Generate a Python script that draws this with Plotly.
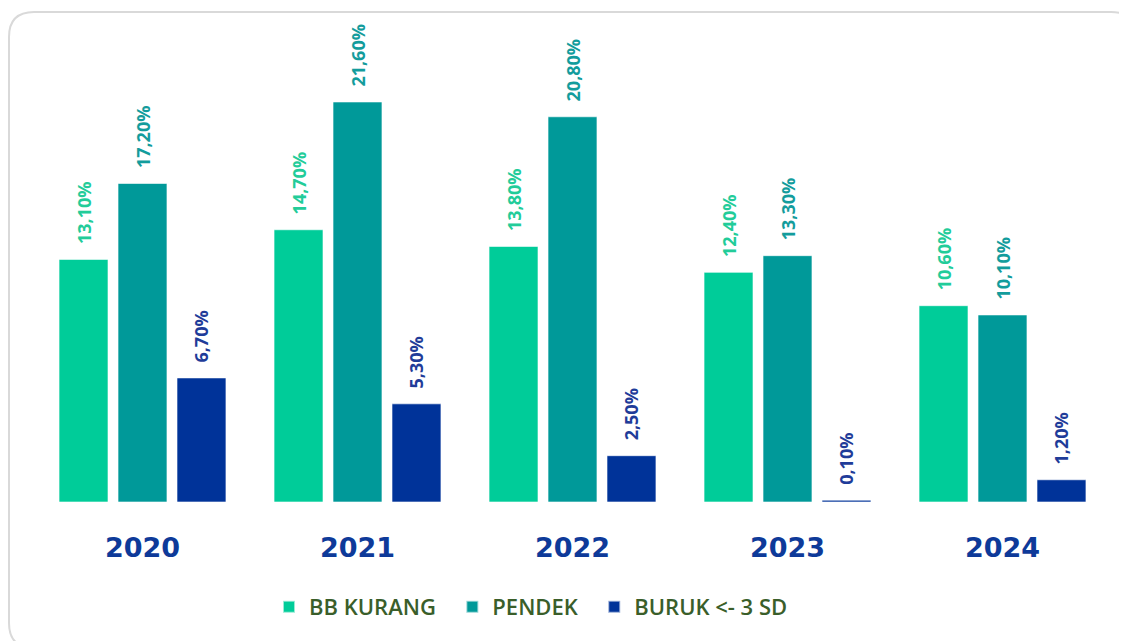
import plotly.graph_objects as go

years = ["2020", "2021", "2022", "2023", "2024"]
bb_kurang = [13.1, 14.7, 13.8, 12.4, 10.6]
pendek = [17.2, 21.6, 20.8, 13.3, 10.1]
buruk = [6.7, 5.3, 2.5, 0.1, 1.2]
series_names = ["BB KURANG", "PENDEK", "BURUK <- 3 SD"]
legend_pad = ["\u00a0" * 2, "\u00a0" * 2, ""]
series_colors = ["#00CC99", "#009999", "#003399"]
label_colors = ["#22CC99", "#139C9C", "#1F3C99"]

OFF = 8  # page body margin
W, H = 1127 - OFF, 641 - OFF
# plot area in window pixels: x 35..1110, y 20..502
ML, MR, MT, MB = 35 - OFF, 1127 - 1110, 20 - OFF, 641 - 502
PW, PH = W - ML - MR, H - MT - MB


def px_to_paper(x, y):
    # x, y in window pixels
    return (x - OFF - ML) / PW, (H - MB - (y - OFF)) / PH


def fmt(v):
    return "\u00a0\u00a0\u2009" + f"{v:.2f}".replace(".", ",") + "%"


fig = go.Figure()
for name, pad, vals, col, lcol in zip(series_names, legend_pad, [bb_kurang, pendek, buruk],
                                      series_colors, label_colors):
    fig.add_trace(go.Bar(
        name=name + pad, x=years, y=vals,
        marker=dict(color=col, line=dict(color="rgba(255,255,255,0.6)", width=1)),
        text=[fmt(v) for v in vals],
        textposition="outside", textangle=-90,
        outsidetextfont=dict(family="Open Sans", size=18, color=lcol, weight="bold"),
        cliponaxis=False, constraintext="none",
        hoverinfo="skip",
    ))

# rounded frame (right and bottom sides run off the window as in the reference)
x0, y0 = px_to_paper(9, 12)
x1, y1 = px_to_paper(1136, 648)
rx = 25 / PW
ry = 25 / PH
path = (f"M{x0+rx},{y0} L{x1-rx},{y0} Q{x1},{y0} {x1},{y0-ry} "
        f"L{x1},{y1+ry} Q{x1},{y1} {x1-rx},{y1} L{x0+rx},{y1} Q{x0},{y1} {x0},{y1+ry} "
        f"L{x0},{y0-ry} Q{x0},{y0} {x0+rx},{y0} Z")
fig.add_shape(type="path", path=path, xref="paper", yref="paper",
              line=dict(color="#D9D9D9", width=2), layer="below")

lx, ly = px_to_paper(531, 607)
fig.update_layout(
    width=W, height=H,
    margin=dict(l=ML, r=MR, t=MT, b=MB),
    paper_bgcolor="white", plot_bgcolor="white",
    barmode="group", bargap=0.177, bargroupgap=0.17,
    showlegend=True,
    legend=dict(orientation="h", x=lx, xanchor="center", y=ly, yanchor="middle",
                font=dict(family="Open Sans", size=22, color="#3A5E2A", weight=600),
                itemsizing="constant", tracegroupgap=0),
    xaxis=dict(showgrid=False, showline=False, zeroline=False, ticks="",
               tickfont=dict(family="DejaVu Sans", size=27, color="#0E3A99", weight="bold"),
               ticklabelstandoff=27, fixedrange=True),
    yaxis=dict(range=[0, (502 - 20) / 18.52], visible=False, fixedrange=True),
)

fig.write_html("out.html")
